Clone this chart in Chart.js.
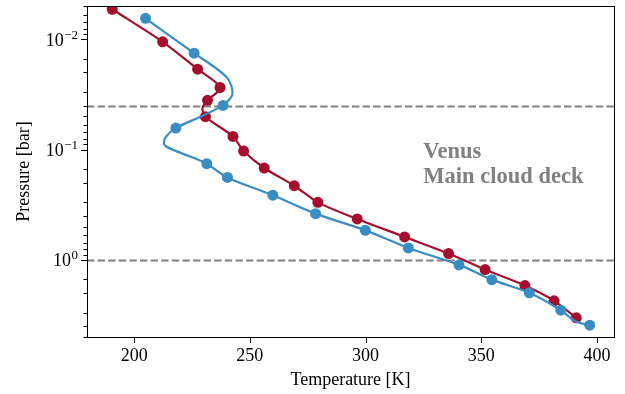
<!DOCTYPE html>
<html>
<head>
<meta charset="utf-8">
<script src="https://cdn.jsdelivr.net/npm/chart.js@4.4.1/dist/chart.umd.min.js"></script>
<style>
    html, body { margin: 0; padding: 0; background: #ffffff; }
    #wrap { width: 625px; height: 394px; position: relative; }
</style>
</head>
<body>
<div id="wrap"><canvas id="chart"></canvas></div>
<script>
// markers
const redT = [190.5, 212.3, 227.4, 237.1, 231.7, 230.8, 242.7, 247.3, 256.2, 269.2, 279.4, 296.4, 316.9, 335.9, 351.7, 368.9, 381.5, 391.1];
const redP = [0.00535, 0.01055, 0.01868, 0.0274, 0.0358, 0.0504, 0.0761, 0.1032, 0.147, 0.2127, 0.301, 0.4255, 0.619, 0.877, 1.224, 1.708, 2.35, 3.35];
const blueT = [204.9, 225.9, 238.4, 218.0, 231.4, 240.3, 259.9, 278.4, 299.9, 318.5, 340.4, 354.6, 370.8, 384.4, 396.9];
const blueP = [0.00646, 0.01339, 0.0398, 0.0639, 0.1344, 0.1789, 0.2592, 0.381, 0.540, 0.779, 1.11, 1.51, 1.99, 2.86, 3.91];

// profile lines (marker points plus bends between them)
const redLineT = [190.5, 212.3, 227.4, 237.1, 231.7, 229.5, 230.8, 242.7, 247.3, 256.2, 269.2, 279.4, 296.4, 316.9, 335.9, 351.7, 368.9, 381.5, 391.1];
const redLineP = [0.00535, 0.01055, 0.01868, 0.0274, 0.0358, 0.0421, 0.0504, 0.0761, 0.1032, 0.147, 0.2127, 0.301, 0.4255, 0.619, 0.877, 1.224, 1.708, 2.35, 3.35];
const blueLineT = [204.9, 225.9, 235.3, 240.3, 242.1, 242.4, 241.0, 238.4, 228.8, 218.0, 213.8, 212.8, 213.8, 220.2, 225.9, 231.4, 240.3, 259.9, 278.4, 299.9, 318.5, 340.4, 354.6, 370.8, 384.4, 390.7, 396.9];
const blueLineP = [0.00646, 0.01339, 0.01829, 0.02253, 0.02685, 0.03192, 0.0354, 0.0398, 0.0502, 0.0639, 0.0761, 0.0873, 0.0937, 0.1076, 0.1194, 0.1344, 0.1789, 0.2592, 0.381, 0.540, 0.779, 1.11, 1.51, 1.99, 2.86, 3.6, 3.91];

const tempTicks = [200, 250, 300, 350, 400];
const pressureTicks = [0.01, 0.1, 1];
const pressureExp = ['\u22122', '\u22121', '0'];
const cloudDeck = [0.04, 1];
const cloudLabel = ['Venus', 'Main cloud deck'];

const RED = '#a50f2d';
const BLUE = '#3a8dc3';
const GREY = '#808080';
const SERIF = '"Liberation Serif", "DejaVu Serif", serif';

function toPoints(xs, ys) {
    return xs.map((x, i) => ({ x, y: ys[i] }));
}

const decorPlugin = {
    id: 'decor',
    beforeDatasetsDraw(chart) {
        const { ctx, chartArea: a, scales: { x, y } } = chart;
        ctx.save();
        ctx.strokeStyle = GREY;
        ctx.lineWidth = 2;
        ctx.setLineDash([7.4, 3.2]);
        cloudDeck.forEach((p) => {
            const py = Math.round(y.getPixelForValue(p)) + 0.5;
            ctx.beginPath();
            ctx.moveTo(a.left, py);
            ctx.lineTo(a.right, py);
            ctx.stroke();
        });
        ctx.restore();

        ctx.save();
        ctx.fillStyle = GREY;
        ctx.font = 'bold 22.5px ' + SERIF;
        ctx.textAlign = 'left';
        ctx.textBaseline = 'alphabetic';
        const tx = x.getPixelForValue(325);
        const ty = y.getPixelForValue(0.12);
        cloudLabel.forEach((line, i) => ctx.fillText(line, tx, ty + i * 25));
        ctx.restore();
    },
    afterDraw(chart) {
        const { ctx, chartArea: a, scales: { x, y } } = chart;
        ctx.save();
        ctx.strokeStyle = '#000000';
        ctx.lineWidth = 1;
        ctx.strokeRect(Math.round(a.left) + 0.5, Math.round(a.top) + 0.5, Math.round(a.right - a.left), Math.round(a.bottom - a.top));

        // y ticks: majors at decades, minors between
        y.ticks.forEach((t) => {
            const py = Math.round(y.getPixelForValue(t.value)) + 0.5;
            if (py < a.top - 1 || py > a.bottom + 1) return;
            const isMajor = pressureTicks.some((p) => Math.abs(Math.log10(p) - Math.log10(t.value)) < 1e-6);
            const len = isMajor ? 6 : 3.5;
            ctx.beginPath();
            ctx.moveTo(a.left, py);
            ctx.lineTo(a.left - len, py);
            ctx.stroke();
        });
        tempTicks.forEach((t) => {
            const px = Math.round(x.getPixelForValue(t)) + 0.5;
            ctx.beginPath();
            ctx.moveTo(px, a.bottom);
            ctx.lineTo(px, a.bottom + 6);
            ctx.stroke();
        });

        // y tick labels as 10^n
        ctx.fillStyle = '#000000';
        ctx.textBaseline = 'alphabetic';
        ctx.textAlign = 'right';
        const right = a.left - 9;
        pressureTicks.forEach((p, i) => {
            const py = y.getPixelForValue(p);
            ctx.font = '13px ' + SERIF;
            const ew = ctx.measureText(pressureExp[i]).width;
            ctx.fillText(pressureExp[i], right, py - 0.5);
            ctx.font = '18px ' + SERIF;
            ctx.fillText('10', right - ew - 0.5, py + 6.5);
        });
        ctx.restore();
    }
};

new Chart(document.getElementById('chart'), {
    type: 'scatter',
    data: {
        datasets: [
            {
                label: 'blue markers',
                data: toPoints(blueT, blueP),
                backgroundColor: BLUE,
                borderColor: BLUE,
                pointRadius: 5.5,
                pointBorderWidth: 0,
                showLine: false,
                order: 1
            },
            {
                label: 'blue profile',
                data: toPoints(blueLineT, blueLineP),
                borderColor: BLUE,
                borderWidth: 2.2,
                pointRadius: 0,
                showLine: true,
                tension: 0.35,
                order: 2
            },
            {
                label: 'red markers',
                data: toPoints(redT, redP),
                backgroundColor: RED,
                borderColor: RED,
                pointRadius: 5.5,
                pointBorderWidth: 0,
                showLine: false,
                order: 3
            },
            {
                label: 'red profile',
                data: toPoints(redLineT, redLineP),
                borderColor: RED,
                borderWidth: 2.2,
                pointRadius: 0,
                showLine: true,
                tension: 0.3,
                order: 4
            }
        ]
    },
    options: {
        responsive: true,
        maintainAspectRatio: false,
        animation: false,
        events: [],
        layout: { padding: { top: 6, right: 11, left: 0, bottom: 0 } },
        plugins: {
            legend: { display: false },
            tooltip: { enabled: false }
        },
        scales: {
            x: {
                type: 'linear',
                min: 179.6,
                max: 407.4,
                afterBuildTicks(scale) {
                    scale.ticks = tempTicks.map((v) => ({ value: v }));
                },
                afterFit(scale) { scale.height = 57; },
                grid: { display: false },
                border: { display: false },
                ticks: {
                    color: '#000000',
                    font: { family: SERIF, size: 18 },
                    padding: 0,
                    maxRotation: 0,
                    autoSkip: false
                },
                title: {
                    display: true,
                    text: 'Temperature [K]',
                    color: '#000000',
                    font: { family: SERIF, size: 18 },
                    padding: { top: 0, bottom: 3 }
                }
            },
            y: {
                type: 'logarithmic',
                reverse: true,
                min: 0.005,
                max: 5,
                afterFit(scale) { scale.width = 87; },
                grid: { display: false },
                border: { display: false },
                ticks: { display: false, autoSkip: false },
                title: {
                    display: true,
                    text: 'Pressure [bar]',
                    color: '#000000',
                    font: { family: SERIF, size: 18 },
                    padding: { top: 13, bottom: 0 }
                }
            }
        }
    },
    plugins: [decorPlugin]
});
</script>
</body>
</html>
